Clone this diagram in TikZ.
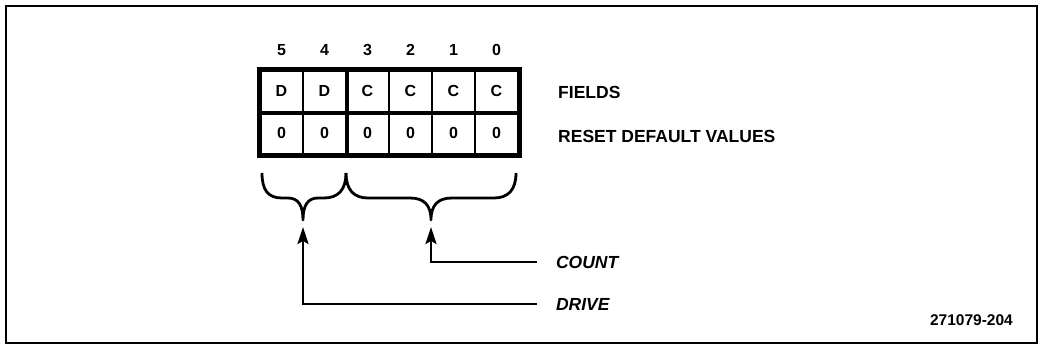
\documentclass[tikz,border=0pt]{standalone}
\usepackage{fontspec}
\setsansfont{Liberation Sans}
\usetikzlibrary{positioning,arrows.meta}

\begin{document}
\begin{tikzpicture}[
  x=1pt, y=-1pt,
  font=\sffamily\bfseries,
  cell/.style={draw, line width=2pt, minimum width=43pt, minimum height=42pt, inner sep=0pt, font=\sffamily\bfseries\fontsize{16}{18}\selectfont},
  bitno/.style={inner sep=0pt, font=\sffamily\bfseries\fontsize{16}{18}\selectfont},
  lab/.style={anchor=west, inner sep=0pt, font=\sffamily\bfseries\fontsize{17.5}{20}\selectfont},
  ptr/.style={anchor=west, inner sep=0pt, outer xsep=19pt, font=\sffamily\bfseries\itshape\fontsize{17.5}{20}\selectfont},
  arr/.style={-{Stealth[length=17pt, width=11pt, inset=3pt]}, line width=2.6pt},
  brace/.style={line width=2.8pt, line join=round},
]
  \useasboundingbox (0,0) rectangle (1041,348);
  \draw[line width=2.5pt] (6,6) rectangle (1037,343);

  % bit numbers
  \node[bitno] (b5) at (281.5,50) {5};
  \node[bitno] (b4) at (324.5,50) {4};
  \node[bitno] (b3) at (367.5,50) {3};
  \node[bitno] (b2) at (410.5,50) {2};
  \node[bitno] (b1) at (453.5,50) {1};
  \node[bitno] (b0) at (496.5,50) {0};

  % field row
  \node[cell] (f5) at (281.5,91) {D};
  \node[cell] (f4) at (324.5,91) {D};
  \node[cell] (f3) at (367.5,91) {C};
  \node[cell] (f2) at (410.5,91) {C};
  \node[cell] (f1) at (453.5,91) {C};
  \node[cell] (f0) at (496.5,91) {C};

  % reset row
  \node[cell] (r5) at (281.5,133) {0};
  \node[cell] (r4) at (324.5,133) {0};
  \node[cell] (r3) at (367.5,133) {0};
  \node[cell] (r2) at (410.5,133) {0};
  \node[cell] (r1) at (453.5,133) {0};
  \node[cell] (r0) at (496.5,133) {0};

  \draw[line width=5pt] (f5.north west) rectangle (r0.south east);
  \draw[line width=4pt] (f5.south west) -- (f0.south east);
  \draw[line width=4pt] (f4.north east) -- (r4.south east);

  \node[lab] (fields) at (558,92) {FIELDS};
  \node[lab] (reset) at (558,136) {RESET DEFAULT VALUES};

  % braces
  \draw[brace] (262,173) .. controls (262,190) and (268,198) .. (282,198) -- (288,198)
    .. controls (298,198) and (303,205) .. (303,220)
    .. controls (303,205) and (308,198) .. (318,198) -- (324,198)
    .. controls (338,198) and (346,190) .. (346,173);
  \draw[brace] (346,173) .. controls (346,190) and (354,198) .. (368,198) -- (410,198)
    .. controls (424,198) and (431,205) .. (431,220)
    .. controls (431,205) and (438,198) .. (452,198) -- (494,198)
    .. controls (508,198) and (516,190) .. (516,173);
  \coordinate (drivetip) at (303,227);
  \coordinate (counttip) at (431,227);

  \node[ptr] (count) at (537,262) {COUNT};
  \node[ptr] (drive) at (537,304) {DRIVE};
  \draw[arr] (count.west) -| (counttip);
  \draw[arr] (drive.west) -| (drivetip);

  \node[inner sep=0pt, anchor=east, font=\sffamily\bfseries\fontsize{15.5}{17}\selectfont] (figno) at (1013,320) {271079-204};
\end{tikzpicture}
\end{document}
